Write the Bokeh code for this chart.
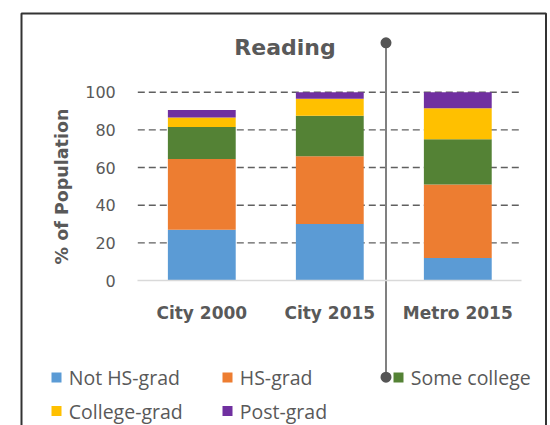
from bokeh.plotting import figure
from bokeh.models import Range1d, LinearAxis, FixedTicker, ColumnDataSource
from bokeh.core.properties import value
from bokeh.embed import file_html
from bokeh.resources import INLINE

# ---------------- data ----------------
title_text = "Reading"
categories = ["City 2000", "City 2015", "Metro 2015"]
series = ["Not HS-grad", "HS-grad", "Some college", "College-grad", "Post-grad"]
not_hs_grad = [27, 30, 12]
hs_grad = [37.5, 36, 39]
some_college = [17, 21.5, 24]
college_grad = [5, 9, 16.5]
post_grad = [4, 3.5, 8.5]
y_ticks = [0, 20, 40, 60, 80, 100]
y_label = "% of Population"
colors = ["#5B9BD5", "#ED7D31", "#548235", "#FFC000", "#7030A0"]

# ---------------- layout helpers (canvas px -> data) ----------------
GX0, PX_U = 137.3, 128.0     # canvas x of category-axis origin, px per category
GY0, PX_V = 280.0, 1.883     # canvas y of 0 %, px per %
def U(px):
    return (px - GX0) / PX_U
def V(py):
    return (GY0 - py) / PX_V

W, H = 550, 425
p = figure(width=W, height=H,
           x_range=Range1d(U(0), U(W)), y_range=Range1d(V(H), V(0)),
           x_axis_type=None, y_axis_type=None,
           toolbar_location=None, output_backend="svg",
           min_border=0, outline_line_color=None,
           background_fill_color="white", border_fill_color="white")

grey = "#595959"

# outer chart border (bottom is cut off by the window)
p.line(x=[U(21), U(21), U(545.5), U(545.5)], y=[V(450), V(13), V(13), V(450)],
       line_color="#333333", line_width=2)

# dashed gridlines
grid_vals = [t for t in y_ticks if t > 0]
p.segment(x0=0, x1=len(categories), y0=grid_vals, y1=grid_vals,
          line_color="#606060", line_width=1.4, line_dash="7 4")

# stacked bars
src = ColumnDataSource(data={
    "x": [i + 0.5 for i in range(len(categories))],
    series[0]: not_hs_grad, series[1]: hs_grad, series[2]: some_college,
    series[3]: college_grad, series[4]: post_grad,
})
p.vbar_stack(series, x="x", width=0.53, color=colors, source=src, line_width=0)

# y axis
yax = LinearAxis(fixed_location=0, ticker=FixedTicker(ticks=y_ticks), bounds=(0, 100))
yax.axis_line_color = None
yax.major_tick_line_color = None
yax.minor_tick_line_color = None
yax.major_tick_out = 0
yax.major_label_standoff = 22
yax.major_label_text_font = "DejaVu Sans"
yax.major_label_text_font_size = "16px"
yax.major_label_text_color = grey
yax.axis_label = y_label
yax.axis_label_text_font = "DejaVu Sans"
yax.axis_label_text_font_style = "bold"
yax.axis_label_text_font_size = "17.5px"
yax.axis_label_text_color = grey
yax.axis_label_standoff = 10
p.add_layout(yax, "left")

# x (category) axis
xticks = [i + 0.5 for i in range(len(categories))]
xax = LinearAxis(fixed_location=0, ticker=FixedTicker(ticks=xticks),
                 bounds=(0, len(categories)),
                 major_label_overrides={t: c for t, c in zip(xticks, categories)})
xax.axis_line_color = "#d9d9d9"
xax.axis_line_width = 1.5
xax.major_tick_line_color = None
xax.minor_tick_line_color = None
xax.major_tick_out = 0
xax.major_label_standoff = 22
xax.major_label_text_font = "DejaVu Sans"
xax.major_label_text_font_style = "bold"
xax.major_label_text_font_size = "17px"
xax.major_label_text_color = grey
p.add_layout(xax, "below")

# title
p.text(x=[U(284.5)], y=[V(47)], text=[title_text], text_align="center",
       text_baseline="middle", text_font=value("DejaVu Sans"),
       text_font_style="bold", text_font_size=value("22px"), text_color=grey)

# legend (3 columns, 2 rows)
cols = [i % 3 for i in range(len(series))]
rows = [i // 3 for i in range(len(series))]
row_y = [377, 410.5]
sq_x = [U(56 + 171 * c) for c in cols]
sq_y = [V(row_y[r]) for r in rows]
p.scatter(x=sq_x, y=sq_y, marker="square", size=10, fill_color=colors, line_color=None)
p.text(x=[U(68.3 + 171 * c) for c in cols], y=[V(row_y[r]) for r in rows],
       text=series, text_align="left", text_baseline="middle",
       text_font=value("Open Sans"), text_font_size=value("19.5px"), text_color=grey)

# vertical pointer line with round ends
p.segment(x0=[U(385.5)], x1=[U(385.5)], y0=[V(42.3)], y1=[V(376.7)],
          line_color="#808080", line_width=2)
p.scatter(x=[U(385.5), U(385.5)], y=[V(42.3), V(376.7)], marker="circle",
          size=11, fill_color="#555555", line_color=None)

open("out.html", "w").write(file_html(p, INLINE))
